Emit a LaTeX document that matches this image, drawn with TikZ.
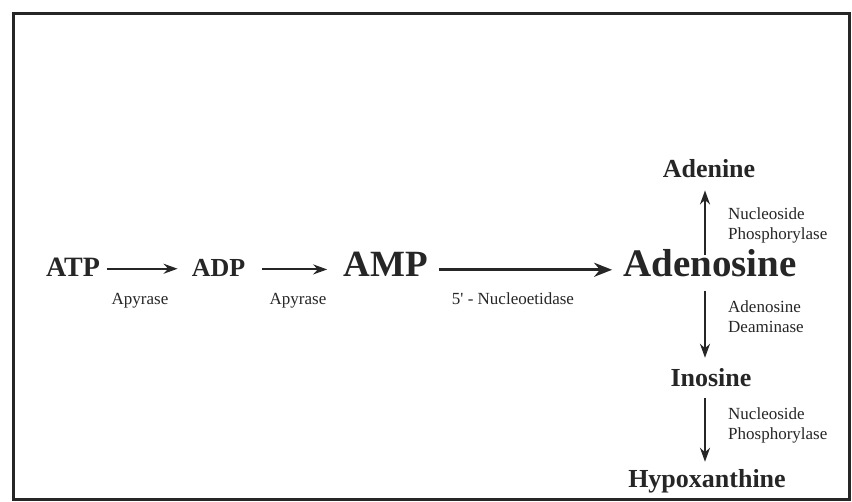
\documentclass[tikz,border=0pt]{standalone}
\usepackage{fontspec}
\setmainfont{Liberation Serif}
\usetikzlibrary{arrows.meta}
\definecolor{ink}{gray}{0.15}
\tikzset{
  met/.style={font=\bfseries\fontsize{26}{28}\selectfont, text=ink, inner sep=0pt, anchor=base},
  big/.style={font=\bfseries\fontsize{37}{40}\selectfont},
  enz/.style={font=\fontsize{17}{20}\selectfont, text=ink, inner sep=0pt, anchor=base west, align=left},
  enzc/.style={font=\fontsize{17}{20}\selectfont, text=ink, inner sep=0pt, anchor=base},
  rx/.style={draw=ink, line width=2pt, -{Stealth[length=14pt,width=10pt]}},
  rxbig/.style={draw=ink, line width=3.2pt, -{Stealth[length=18pt,width=14pt]}}
}
\begin{document}
\begin{tikzpicture}[x=1pt,y=-1pt]
\useasboundingbox (0,0) rectangle (852,502);
\draw[ink, line width=2.6pt] (13.5,13.5) rectangle (849.5,499.5);
\node[met,font=\bfseries\fontsize{28}{30}\selectfont] (atp) at (73,277) {ATP};
\node[met] (adp) at (218.5,277) {ADP};
\node[met,big] (amp) at (385.5,277) {AMP};
\node[met,big,font=\bfseries\fontsize{39}{42}\selectfont] (ado) at (710,277) {Adenosine};
\node[met] (ade) at (709,178) {Adenine};
\node[met] (ino) at (711,387) {Inosine};
\node[met] (hyp) at (707,488) {Hypoxanthine};
\draw[rx, shorten <=7pt, shorten >=14pt] ([yshift=-1pt]atp.east) -- ([yshift=-1pt]adp.west |- atp.east);
\draw[rx, shorten <=17pt, shorten >=16pt] ([yshift=-1pt]adp.east) -- ([yshift=-1pt]amp.west |- adp.east);
\draw[rxbig, shorten <=11pt, shorten >=11pt] ([yshift=-5pt]amp.east) -- ([yshift=-5pt]ado.west |- amp.east);
\node[enzc] (e1) at (140,305) {Apyrase};
\node[enzc] (e2) at (298,305) {Apyrase};
\node[enzc] (e3) at (513,305) {5\textquotesingle\ - Nucleoetidase};
\draw[rx, shorten <=-5pt, shorten >=12pt] ([xshift=-5pt]ado.north) -- ([xshift=-4pt]ade.south);
\draw[rx, shorten <=13pt, shorten >=11pt] ([xshift=-5pt]ado.south) -- ([xshift=-6pt]ino.north);
\draw[rx, shorten <=11pt, shorten >=8pt] ([xshift=-6pt]ino.south) -- ([xshift=-2pt]hyp.north);
\node[enz] (e4) at (728,240) {Nucleoside\\Phosphorylase};
\node[enz] (e5) at (728,333) {Adenosine\\Deaminase};
\node[enz] (e6) at (728,440) {Nucleoside\\Phosphorylase};
\end{tikzpicture}
\end{document}
